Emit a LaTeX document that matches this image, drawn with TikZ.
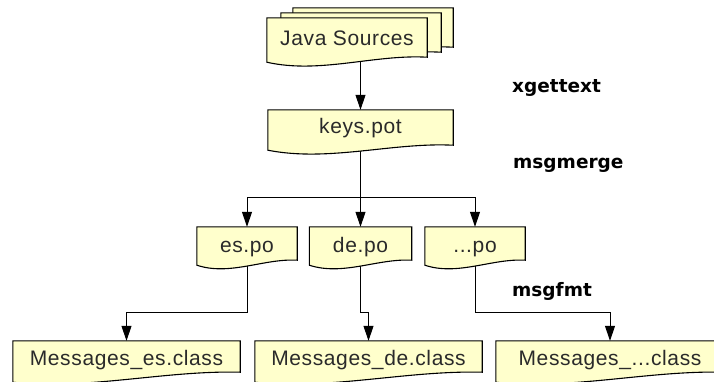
\documentclass[tikz,border=0pt]{standalone}
\usepackage{fontspec}
\setmainfont{Liberation Sans}[LetterSpace=3.0]
\newfontfamily\labelfont{DejaVu Sans}
\usetikzlibrary{arrows.meta,calc}
\pgfdeclarelayer{wires}
\pgfdeclarelayer{sheets}
\pgfsetlayers{wires,sheets,main}
\definecolor{paper}{HTML}{FFFFCC}
\definecolor{ink}{HTML}{2A2A2A}

\tikzset{
  docbox/.style={rectangle, inner sep=0pt, text=ink,
    font=\fontsize{21}{24}\selectfont, text height=15pt, text depth=#1},
  docbox/.default=5pt,
  docline/.style={draw=black, fill=paper, line width=1.1pt, line join=miter},
  wire/.style={draw=black, line width=1pt, -{Triangle[length=15pt,width=10pt]}},
  tool/.style={font=\labelfont\bfseries\fontsize{18.5}{22}\selectfont,
    text=black, anchor=base west, inner sep=0pt}
}

% document sheet: flat top, wavy bottom edge rising to the right
% #1 node, #2 rise of the right end, #3 left control, #4 right control
\newcommand{\docsheet}[4]{%
  \filldraw[docline] (#1.north west) -- (#1.north east)
    -- ($(#1.south east)+(0,-#2)$)
    .. controls ($(#1.south west)!0.67!(#1.south east)+(0,#4)$)
           and ($(#1.south west)!0.33!(#1.south east)+(0,#3)$) .. (#1.south west)
    -- cycle;}

\begin{document}
\begin{tikzpicture}[x=1pt,y=-1pt]
  \useasboundingbox (0,0) rectangle (714,381);

  % sources stack
  \node[docbox, minimum width=160pt, minimum height=44pt] (src3) at (373,30) {};
  \node[docbox, minimum width=160pt, minimum height=44pt] (src2) at (361,35) {};
  \node[docbox, minimum width=160pt, minimum height=44pt] (src) at (347,40) {Java Sources};

  % template
  \node[docbox=9pt, minimum width=185pt, minimum height=40pt] (pot) at (360.5,130) {keys.pot};

  % translations
  \node[docbox=3pt, minimum width=100pt, minimum height=38pt] (es) at (247,246) {es.po};
  \node[docbox=3pt, minimum width=102pt, minimum height=38pt] (de) at (360.5,246) {de.po};
  \node[docbox=3pt, minimum width=100pt, minimum height=38pt] (dots) at (475,246) {...po};

  % compiled bundles
  \node[docbox=8pt, minimum width=227pt, minimum height=41pt] (mes) at (126.5,361.5) {Messages\_es.class};
  \node[docbox=8pt, minimum width=227pt, minimum height=41pt] (mde) at (368.5,361.5) {Messages\_de.class};
  \node[docbox=8pt, minimum width=228pt, minimum height=41pt] (mdots) at (610,361.5) {Messages\_...class};

  % tool labels
  \node[tool] (xg) at (512,92) {xgettext};
  \node[tool] (mm) at (513,168) {msgmerge};
  \node[tool] (mf) at (512,296) {msgfmt};

  \begin{pgfonlayer}{sheets}
    \docsheet{src3}{5}{12}{-8}
    \docsheet{src2}{5}{12}{-8}
    \docsheet{src}{5}{12}{-8}
    \docsheet{pot}{5}{12}{-8}
    \docsheet{es}{5}{11}{-7}
    \docsheet{de}{5}{11}{-7}
    \docsheet{dots}{5}{11}{-7}
    \docsheet{mes}{10}{8}{-12}
    \docsheet{mde}{10}{8}{-12}
    \docsheet{mdots}{10}{8}{-12}
  \end{pgfonlayer}

  \begin{pgfonlayer}{wires}
    \fill[white] (0,0) rectangle (714,381);
    \coordinate (split) at (360.5,197);
    \coordinate (bend) at (0,312);
    \draw[wire] (src.center -| pot.north) -- (pot.north);
    \draw[wire] (pot) -- (de.north);
    \draw[wire] (split) -| (es.north);
    \draw[wire] (split) -| (dots.north);
    \draw[wire] (es) -- (es |- bend) -| (mes.north);
    \draw[wire] (de) -- (de |- bend) -| (mde.north);
    \draw[wire] (dots) -- (dots |- bend) -| (mdots.north);
  \end{pgfonlayer}
\end{tikzpicture}
\end{document}
